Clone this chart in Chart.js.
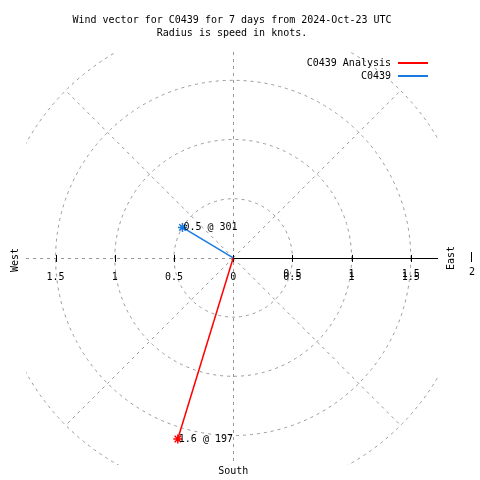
<!DOCTYPE html>
<html>
<head>
<meta charset="utf-8">
<script src="https://cdn.jsdelivr.net/npm/chart.js@4.4.1/dist/chart.umd.min.js"></script>
<style>
html, body { margin: 0; padding: 0; background: #fff; }
</style>
</head>
<body>
<canvas id="myChart" width="480" height="480"></canvas>
<script>
const seriesNames = ['C0439 Analysis', 'C0439'];
const seriesColors = ['#ff0000', '#1a7ae0'];
const speeds = [1.6, 0.5];        // knots
const directions = [197, 301];    // degrees, compass
const ringValues = [0.5, 1, 1.5, 2];
const tickValues = [0.5, 1, 1.5];
const spokeAngles = [45, 135, 225, 315];
const titleLines = ['Wind vector for C0439 for 7 days from 2024-Oct-23 UTC', 'Radius is speed in knots.'];

const FONT = '10px "DejaVu Sans Mono", monospace';
const GRID = '#999999';

function toXY(speed, dir) {
    const a = dir * Math.PI / 180;
    return { x: speed * Math.sin(a), y: speed * Math.cos(a) };
}

const datasets = seriesNames.map(function(name, i) {
    return {
        label: name,
        data: [{ x: 0, y: 0 }, toXY(speeds[i], directions[i])],
        showLine: true,
        borderColor: seriesColors[i],
        backgroundColor: seriesColors[i],
        borderWidth: 1.5,
        pointStyle: 'star',
        pointRadius: [0, 4.5],
        pointBorderWidth: 1.5
    };
});

const polarGrid = {
    id: 'polarGrid',
    beforeDatasetsDraw(chart) {
        const ctx = chart.ctx;
        const xs = chart.scales.x, ys = chart.scales.y;
        const area = chart.chartArea;
        const cx = xs.getPixelForValue(0), cy = ys.getPixelForValue(0);
        const unit = xs.getPixelForValue(1) - cx;

        ctx.save();
        ctx.beginPath();
        ctx.rect(area.left, area.top, area.right - area.left, area.bottom - area.top);
        ctx.clip();

        ctx.strokeStyle = GRID;
        ctx.lineWidth = 1;
        ctx.setLineDash([3, 4]);

        ringValues.forEach(function(r) {
            ctx.beginPath();
            ctx.arc(cx, cy, r * unit, 0, Math.PI * 2);
            ctx.stroke();
        });

        const rMax = ringValues[ringValues.length - 1];
        spokeAngles.forEach(function(a) {
            const p = toXY(rMax, a);
            ctx.beginPath();
            ctx.moveTo(cx, cy);
            ctx.lineTo(xs.getPixelForValue(p.x), ys.getPixelForValue(p.y));
            ctx.stroke();
        });

        // west half of the x axis and the vertical axis
        ctx.beginPath();
        ctx.moveTo(area.left, Math.round(cy) + 0.5);
        ctx.lineTo(cx, Math.round(cy) + 0.5);
        ctx.moveTo(Math.round(cx) + 0.5, area.top);
        ctx.lineTo(Math.round(cx) + 0.5, area.bottom);
        ctx.stroke();
        ctx.restore();

        // east half solid
        ctx.save();
        ctx.strokeStyle = '#000';
        ctx.lineWidth = 1;
        ctx.beginPath();
        ctx.moveTo(cx, Math.round(cy) + 0.5);
        ctx.lineTo(area.right, Math.round(cy) + 0.5);
        [0].concat(tickValues, tickValues.map(v => -v)).forEach(function(v) {
            const px = Math.round(xs.getPixelForValue(v)) + 0.5;
            ctx.moveTo(px, cy - 3);
            ctx.lineTo(px, cy + 4);
        });
        ctx.stroke();
        ctx.restore();
    },
    afterDraw(chart) {
        const ctx = chart.ctx;
        const xs = chart.scales.x, ys = chart.scales.y;
        const cx = xs.getPixelForValue(0), cy = ys.getPixelForValue(0);

        ctx.save();
        ctx.font = FONT;
        ctx.fillStyle = '#000';
        ctx.textAlign = 'center';
        ctx.textBaseline = 'middle';

        titleLines.forEach(function(t, i) {
            ctx.fillText(t, 232, 20 + i * 13);
        });

        // tick labels
        ctx.fillText('0', cx, cy + 19);
        tickValues.forEach(function(v) {
            ctx.fillText(String(v), xs.getPixelForValue(-v), cy + 19);
            ctx.fillText(String(v), xs.getPixelForValue(v), cy + 16);
            ctx.fillText(String(v), xs.getPixelForValue(v), cy + 19);
        });

        ctx.fillText('South', cx, 471);
        ctx.fillText('2', 472, 272);
        ctx.fillRect(471, 252, 1, 10);

        ctx.save();
        ctx.translate(15, 260);
        ctx.rotate(-Math.PI / 2);
        ctx.fillText('West', 0, 0);
        ctx.restore();
        ctx.save();
        ctx.translate(451, 258);
        ctx.rotate(-Math.PI / 2);
        ctx.fillText('East', 0, 0);
        ctx.restore();

        // value labels at vector tips
        ctx.textAlign = 'left';
        speeds.forEach(function(s, i) {
            const p = toXY(s, directions[i]);
            ctx.fillText(s + ' @ ' + directions[i], xs.getPixelForValue(p.x) + 1, ys.getPixelForValue(p.y));
        });

        // legend
        ctx.textAlign = 'right';
        seriesNames.forEach(function(name, i) {
            const y = 63 + i * 13;
            ctx.fillStyle = '#000';
            ctx.fillText(name, 391, y);
            ctx.fillStyle = seriesColors[i];
            ctx.fillRect(398, y - 1, 30, 2);
        });
        ctx.restore();
    }
};

new Chart(document.getElementById('myChart'), {
    type: 'scatter',
    data: { datasets: datasets },
    options: {
        responsive: false,
        animation: false,
        devicePixelRatio: 1,
        layout: { padding: { left: 26, top: 52, right: 42, bottom: 15 } },
        scales: {
            x: { type: 'linear', min: -1.75, max: 1.73, display: false },
            y: { type: 'linear', min: -1.75, max: 1.74, display: false }
        },
        plugins: {
            legend: { display: false },
            title: { display: false },
            tooltip: { enabled: false }
        }
    },
    plugins: [polarGrid]
});
</script>
</body>
</html>
